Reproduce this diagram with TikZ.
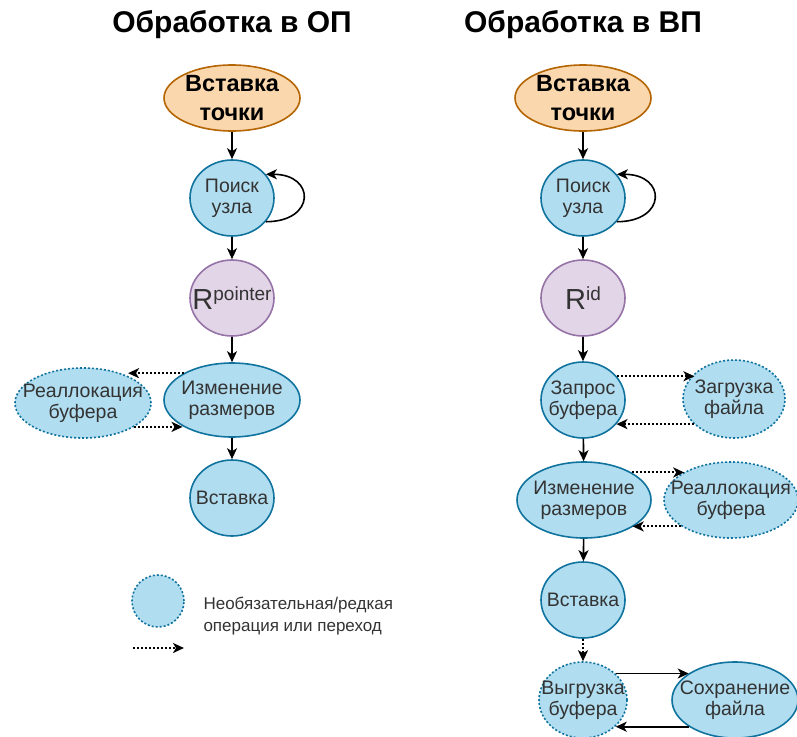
\documentclass[tikz,border=0pt]{standalone}
\usepackage{fontspec}
\setmainfont{Liberation Sans}
\usepackage{tikz}
\usetikzlibrary{positioning, arrows.meta, shapes.geometric}

\definecolor{blfill}{HTML}{B1DDF0}
\definecolor{bldraw}{HTML}{10739E}
\definecolor{orfill}{HTML}{FAD7AC}
\definecolor{ordraw}{HTML}{B46504}
\definecolor{pufill}{HTML}{E1D5E7}
\definecolor{pudraw}{HTML}{9673A6}
\definecolor{txtgray}{HTML}{333333}

\tikzset{
  base/.style={ellipse, inner sep=-16pt, line width=1.6pt, align=center},
  opnode/.style={base, draw=bldraw, fill=blfill, text=txtgray,
    font=\fontsize{19.5}{21}\selectfont},
  optnode/.style={opnode, dash pattern=on 2pt off 2pt},
  startnode/.style={base, draw=ordraw, fill=orfill, text=black,
    font=\bfseries\fontsize{23.5}{29}\selectfont, minimum width=136pt, minimum height=66pt},
  regnode/.style={base, draw=pudraw, fill=pufill, text=txtgray,
    minimum width=84pt, minimum height=76pt},
  title/.style={font=\bfseries\fontsize{30}{32}\selectfont},
  arr/.style={-{Stealth[length=11pt, width=10pt, inset=3pt]}, line width=1.6pt},
  opt/.style={arr, line width=2pt, dash pattern=on 2pt off 2pt},
}

\newcommand{\regname}[1]{{\fontsize{29}{30}\selectfont R}\raisebox{9.5pt}{\fontsize{19}{20}\selectfont #1}}

\begin{document}
\begin{tikzpicture}[x=1pt, y=-1pt]
\useasboundingbox (0,0) rectangle (797,736);
\clip (0,0) rectangle (797,736);

% Left column: processing in RAM
\node[title] (titleL) at (232,25) {Обработка в ОП};
\node[startnode] (startL) at (232,98) {Вставка\\точки};
\node[opnode, minimum width=84pt, minimum height=76pt] (searchL) at (232,198) {Поиск\\узла};
\node[regnode] (regL) at (232,298) {\regname{pointer}};
\node[opnode, minimum width=136pt, minimum height=74pt] (resizeL) at (232,400) {Изменение\\размеров};
\node[optnode, minimum width=136pt, minimum height=70pt] (reallocL) at (83,403) {Реаллокация\\буфера};
\node[opnode, minimum width=84pt, minimum height=76pt] (insertL) at (232,498) {Вставка};

\draw[arr] (startL) -- (searchL);
\draw[arr] (searchL.-35) .. controls +(50,0) and +(50,0) .. (searchL.35);
\draw[arr] (searchL) -- (regL);
\draw[arr] (regL) -- (resizeL);
\draw[arr] (resizeL) -- (insertL);
\draw[opt] (resizeL.151) -- (resizeL.151 -| reallocL.31);
\draw[opt] (reallocL.335) -- (reallocL.335 -| resizeL.208);

% Legend
\node[optnode, circle, inner sep=0pt, minimum size=52pt] (legnode) at (158,601) {};
\node[anchor=west, align=left, text=txtgray, font=\fontsize{17}{22}\selectfont] (legtext) at (200,616)
  {Необязательная/редкая\\операция или переход};
\coordinate (legA) at (133,648);
\coordinate (legB) at (184,648);
\draw[opt] (legA) -- (legB);

% Right column: processing in external memory
\node[title] (titleR) at (583,25) {Обработка в ВП};
\node[startnode] (startR) at (583,98) {Вставка\\точки};
\node[opnode, minimum width=84pt, minimum height=76pt] (searchR) at (583,198) {Поиск\\узла};
\node[regnode] (regR) at (583,298) {\regname{id}};
\node[opnode, minimum width=84pt, minimum height=76pt] (requestR) at (583,400) {Запрос\\буфера};
\node[optnode, minimum width=102pt, minimum height=78pt] (loadR) at (734,399) {Загрузка\\файла};
\node[opnode, minimum width=134pt, minimum height=76pt] (resizeR) at (584,500) {Изменение\\размеров};
\node[optnode, minimum width=134pt, minimum height=76pt] (reallocR) at (731,500) {Реаллокация\\буфера};
\node[opnode, minimum width=84pt, minimum height=76pt] (insertR) at (583,600) {Вставка};
\node[optnode, minimum width=88pt, minimum height=76pt] (unloadR) at (583,700) {Выгрузка\\буфера};
\node[opnode, minimum width=126pt, minimum height=76pt] (saveR) at (735,700) {Сохранение\\файла};

\draw[arr] (startR) -- (searchR);
\draw[arr] (searchR.-35) .. controls +(50,0) and +(50,0) .. (searchR.35);
\draw[arr] (searchR) -- (regR);
\draw[arr] (regR) -- (requestR);
\draw[opt] (requestR.35) -- (requestR.35 -| loadR.147);
\draw[opt] (loadR.212) -- (loadR.212 -| requestR.324);
\draw[arr] (requestR) -- (resizeR);
\draw[opt] (resizeR.30) -- (resizeR.30 -| reallocR.149);
\draw[opt] (reallocR.208) -- (reallocR.208 -| resizeR.331);
\draw[arr] (resizeR) -- (insertR);
\draw[opt] (insertR) -- (unloadR);
\draw[arr] (unloadR.39) -- (unloadR.39 -| saveR.150);
\draw[arr] (saveR.210) -- (saveR.210 -| unloadR.321);
\end{tikzpicture}
\end{document}
